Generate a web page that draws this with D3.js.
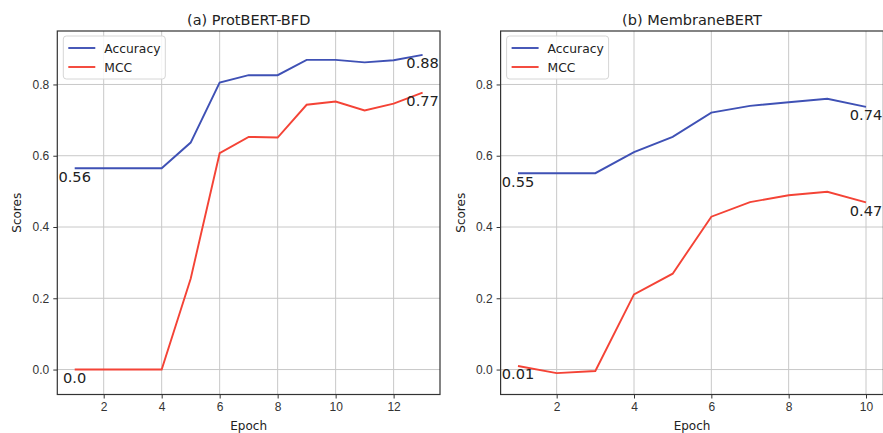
<!DOCTYPE html>
<html lang="en">
<head>
  <meta charset="UTF-8">
  <title>Training scores per epoch</title>
  <script src="https://d3js.org/d3.v7.min.js"></script>
  <style>
    body { margin: 0; background: #fff; }
    svg { display: block; font-family: "DejaVu Sans", sans-serif; }
    .tick text { fill: #333; font-size: 12px; }
    .tick line { stroke: #333; }
    .grid line { stroke: #c8c8c8; stroke-width: 1; }
    .frame { fill: none; stroke: #333; stroke-width: 1.2; }
  </style>
</head>
<body>
  <svg id="chart" width="883" height="433"></svg>

  <script>
    const seriesNames = ["Accuracy", "MCC"];
    const seriesColors = ["#3f51b5", "#f44336"];

    const protEpochs = [1, 2, 3, 4, 5, 6, 7, 8, 9, 10, 11, 12, 13];
    const protAccuracy = [0.565, 0.565, 0.565, 0.565, 0.637, 0.805, 0.826, 0.826, 0.869, 0.869, 0.862, 0.868, 0.883];
    const protMcc = [0.0, 0.0, 0.0, 0.0, 0.255, 0.607, 0.653, 0.651, 0.743, 0.752, 0.727, 0.746, 0.777];
    const protLabels = [["0.56", "0.88"], ["0.0", "0.77"]];

    const memEpochs = [1, 2, 3, 4, 5, 6, 7, 8, 9, 10];
    const memAccuracy = [0.551, 0.551, 0.551, 0.610, 0.653, 0.721, 0.740, 0.750, 0.760, 0.737];
    const memMcc = [0.010, -0.010, -0.004, 0.211, 0.269, 0.429, 0.470, 0.489, 0.499, 0.469];
    const memLabels = [["0.55", "0.74"], ["0.01", "0.47"]];

    const yTicks = [0.0, 0.2, 0.4, 0.6, 0.8];

    const svg = d3.select("#chart");

    const y = d3.scaleLinear().domain([-0.07, 0.95]).range([394.5, 31]);

    function drawPanel(opts) {
      const x = d3.scaleLinear().domain(opts.xDomain).range(opts.xRange);
      const g = svg.append("g");
      const [x0, x1] = opts.xRange;
      const [yb, yt] = y.range();

      // grid
      const grid = g.append("g").attr("class", "grid");
      grid.selectAll(".vx").data(opts.xTicks).join("line")
        .attr("x1", d => x(d)).attr("x2", d => x(d))
        .attr("y1", yt).attr("y2", yb);
      grid.selectAll(".hy").data(yTicks).join("line")
        .attr("class", "hy")
        .attr("x1", x0).attr("x2", x1)
        .attr("y1", d => y(d)).attr("y2", d => y(d));

      // axes
      g.append("g")
        .attr("transform", `translate(0,${yb})`)
        .call(d3.axisBottom(x).tickValues(opts.xTicks).tickSize(4).tickPadding(4).tickFormat(d3.format("d")))
        .call(a => a.select(".domain").remove());
      g.append("g")
        .attr("transform", `translate(${x0},0)`)
        .call(d3.axisLeft(y).tickValues(yTicks).tickSize(4).tickPadding(4).tickFormat(d3.format(".1f")))
        .call(a => a.select(".domain").remove());

      // lines
      const series = [opts.acc, opts.mcc];
      const line = d3.line().x((d, i) => x(opts.epochs[i])).y(d => y(d));
      series.forEach((vals, s) => {
        g.append("path")
          .datum(vals)
          .attr("fill", "none")
          .attr("stroke", seriesColors[s])
          .attr("stroke-width", 1.9)
          .attr("d", line);

        const ends = [0, vals.length - 1];
        ends.forEach((idx, k) => {
          g.append("text")
            .attr("x", x(opts.epochs[idx]))
            .attr("y", y(vals[idx]) + 13.5)
            .attr("text-anchor", "middle")
            .attr("fill", "#222")
            .attr("font-size", 14.6)
            .text(opts.labels[s][k]);
        });
      });

      // frame
      g.append("rect").attr("class", "frame")
        .attr("x", x0).attr("y", yt)
        .attr("width", x1 - x0).attr("height", yb - yt);

      // title and axis labels
      g.append("text")
        .attr("x", (x0 + x1) / 2).attr("y", 25)
        .attr("text-anchor", "middle").attr("font-size", 14.5).attr("fill", "#222")
        .text(opts.title);
      g.append("text")
        .attr("x", (x0 + x1) / 2).attr("y", 430)
        .attr("text-anchor", "middle").attr("font-size", 12).attr("fill", "#222")
        .text("Epoch");
      g.append("text")
        .attr("transform", `translate(${opts.yLabelX},${(yt + yb) / 2}) rotate(-90)`)
        .attr("text-anchor", "middle").attr("font-size", 12).attr("fill", "#222")
        .text("Scores");

      // legend
      const lg = g.append("g").attr("transform", `translate(${x0 + 6},${yt + 5})`);
      lg.append("rect")
        .attr("width", 102).attr("height", 43).attr("rx", 3)
        .attr("fill", "rgba(255,255,255,0.85)").attr("stroke", "#d6d6d6");
      seriesNames.forEach((name, i) => {
        const ly = 12 + i * 19;
        lg.append("line")
          .attr("x1", 5).attr("x2", 32).attr("y1", ly).attr("y2", ly)
          .attr("stroke", seriesColors[i]).attr("stroke-width", 1.9);
        lg.append("text")
          .attr("x", 41).attr("y", ly + 4.5)
          .attr("font-size", 12.3).attr("fill", "#222")
          .text(name);
      });
    }

    drawPanel({
      title: "(a) ProtBERT-BFD",
      epochs: protEpochs, acc: protAccuracy, mcc: protMcc, labels: protLabels,
      xDomain: [0.4, 13.6], xRange: [57.3, 440],
      xTicks: [2, 4, 6, 8, 10, 12], yLabelX: 21
    });

    drawPanel({
      title: "(b) MembraneBERT",
      epochs: memEpochs, acc: memAccuracy, mcc: memMcc, labels: memLabels,
      xDomain: [0.55, 10.45], xRange: [500.6, 883.4],
      xTicks: [2, 4, 6, 8, 10], yLabelX: 465
    });
  </script>
</body>
</html>
